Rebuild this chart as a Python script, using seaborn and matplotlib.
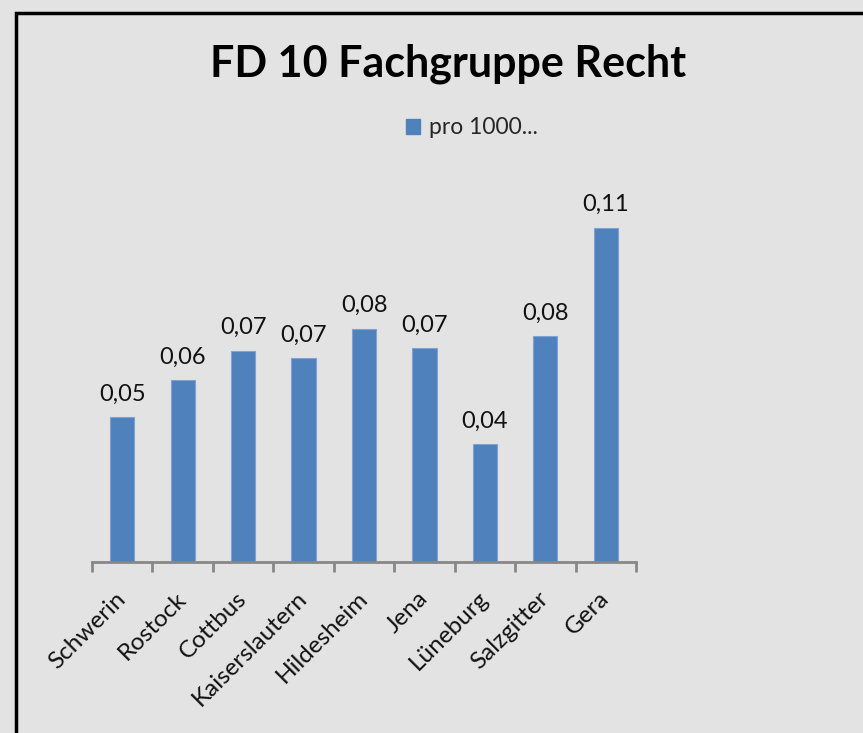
import matplotlib
matplotlib.use("Agg")
import matplotlib.pyplot as plt
import seaborn as sns
import pandas as pd
import numpy as np
from matplotlib.patches import Rectangle, Patch

# Werte pro 1000
staedte = ["Schwerin", "Rostock", "Cottbus", "Kaiserslautern", "Hildesheim",
           "Jena", "Lüneburg", "Salzgitter", "Gera"]
werte = [0.0486, 0.0612, 0.0710, 0.0685, 0.0784, 0.0719, 0.0396, 0.0759, 0.1124]
titel = "FD 10 Fachgruppe Recht"
legende = "pro 1000..."

bg = "#e3e3e3"
blau = "#4f81bd"

sns.set_theme(style="white")
plt.rcParams['font.family'] = ['Lato', 'DejaVu Sans']

df = pd.DataFrame({"Stadt": staedte, "Wert": werte})

fig = plt.figure(figsize=(8.63, 7.33), dpi=100, facecolor=bg)
ax = fig.add_axes([92/863, 171/733, 544/863, 357/733])
ax.set_facecolor(bg)

sns.barplot(data=df, x="Stadt", y="Wert", color=blau, saturation=1, width=0.4,
            edgecolor="#7ea3d3", linewidth=0.8, ax=ax)

ax.set_ylim(0, 0.12)
ax.set_xlim(-0.5, len(staedte) - 0.5)
for s in ["top", "right", "left"]:
    ax.spines[s].set_visible(False)
ax.spines["bottom"].set_color("#878787")
ax.spines["bottom"].set_linewidth(2)
ax.set_yticks([])
ax.set_xlabel("")
ax.set_ylabel("")

# Trennstriche zwischen den Kategorien
ax.set_xticks(np.arange(-0.5, len(staedte), 1), minor=True)
ax.tick_params(axis="x", which="minor", length=7, width=2, color="#878787", direction="out", bottom=True)
ax.tick_params(axis="x", which="major", length=0, pad=24)
ax.set_xticks(range(len(staedte)))
ax.set_xticklabels(staedte, rotation=45, ha="right", va="center",
                   rotation_mode="anchor", fontsize=17.5, color="#111111")

# Beschriftung der Balken
for cont in ax.containers:
    ax.bar_label(cont, labels=[f"{v:.2f}".replace(".", ",") for v in werte],
                 padding=9, fontsize=17, color="#111111")

fig.text(448/863, 1 - 64/733, titel, ha="center", va="center",
         fontsize=31, fontweight="bold", color="black")

handle = Patch(facecolor=blau, edgecolor=blau)
fig.legend(handles=[handle], labels=[legende], loc="center",
           bbox_to_anchor=(472/863, 1 - 128/733), frameon=False,
           fontsize=16.5, handlelength=0.6, handleheight=0.6, handletextpad=0.4)

# Rahmen
fig.patches.append(Rectangle((16/863, -0.05), 1.0, 1 - 13/733 + 0.05,
                             transform=fig.transFigure, fill=False,
                             edgecolor="black", linewidth=2.5))

fig.savefig("out.png", dpi=100, facecolor=bg)
